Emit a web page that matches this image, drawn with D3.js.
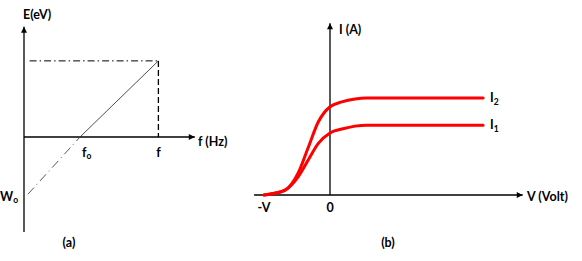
<!DOCTYPE html>
<html>
<head>
<meta charset="utf-8">
<script src="https://cdn.jsdelivr.net/npm/d3@7"></script>
<style>
  body { margin: 0; background: #fff; }
  text { font-family: Lato, "Open Sans", sans-serif; font-weight: bold; fill: #000; font-size: 12.5px; }
  tspan.sub { font-size: 8.5px; }
</style>
</head>
<body>
<div id="chart"></div>
<script>
// (a) photon energy vs frequency
const freqLabels = ["f", "f"];
const freqSubs = ["o", ""];
const freqValues = [1, 2.4];
const energyAtF = 1.29;
const workFunction = -0.97;

// (b) photocurrent vs voltage
const voltage = [-1, -0.9, -0.68, -0.48, -0.33, -0.18, 0, 0.18, 0.38, 0.55, 2.32];
const currentI2 = [0, 0.01, 0.05, 0.23, 0.49, 0.75, 0.91, 0.96, 0.99, 1.0, 1.0];
const currentI1 = [0, 0.01, 0.05, 0.19, 0.36, 0.53, 0.64, 0.68, 0.71, 0.72, 0.72];
const curveNames = ["I", "I"];
const curveSubs = ["2", "1"];

const width = 582, height = 261;

const svg = d3.select("#chart")
  .append("svg")
    .attr("width", width)
    .attr("height", height);

// arrow head
svg.append("defs").append("marker")
    .attr("id", "arrow")
    .attr("viewBox", "0 0 10 10")
    .attr("refX", 10).attr("refY", 5)
    .attr("markerUnits", "userSpaceOnUse")
    .attr("markerWidth", 8).attr("markerHeight", 6)
    .attr("orient", "auto")
  .append("path")
    .attr("d", "M0,0L10,5L0,10z")
    .attr("fill", "#000");

// ---------- panel (a) ----------
const xA = d3.scaleLinear().domain([0, 1]).range([24, 80]);
const yA = d3.scaleLinear().domain([0, 1]).range([137, 78]);

const gA = svg.append("g");

// axes
gA.append("line")
    .attr("x1", xA(0)).attr("y1", yA(-1.61))
    .attr("x2", xA(0)).attr("y2", yA(1.87))
    .attr("stroke", "#000").attr("stroke-width", 1.3)
    .attr("marker-end", "url(#arrow)");
gA.append("line")
    .attr("x1", xA(0)).attr("y1", yA(0))
    .attr("x2", xA(3.05)).attr("y2", yA(0))
    .attr("stroke", "#000").attr("stroke-width", 1.3)
    .attr("marker-end", "url(#arrow)");

// guide lines
const fMax = freqValues[1];
gA.append("line")
    .attr("x1", xA(0.1)).attr("y1", yA(energyAtF))
    .attr("x2", xA(fMax)).attr("y2", yA(energyAtF))
    .attr("stroke", "#000").attr("stroke-width", 1)
    .attr("stroke-dasharray", "7,3,1.5,3");
gA.append("line")
    .attr("x1", xA(fMax)).attr("y1", yA(energyAtF))
    .attr("x2", xA(fMax)).attr("y2", yA(0))
    .attr("stroke", "#000").attr("stroke-width", 1.3)
    .attr("stroke-dasharray", "6,3");

// kinetic energy line
gA.append("line")
    .attr("x1", xA(freqValues[0])).attr("y1", yA(0))
    .attr("x2", xA(fMax)).attr("y2", yA(energyAtF))
    .attr("stroke", "#222").attr("stroke-width", 0.8);
gA.append("line")
    .attr("x1", xA(0.07)).attr("y1", yA(workFunction))
    .attr("x2", xA(freqValues[0])).attr("y2", yA(0))
    .attr("stroke", "#444").attr("stroke-width", 0.9)
    .attr("stroke-dasharray", "9,4,1,4");

// labels
gA.append("text")
    .attr("x", 23).attr("y", 19)
    .text("E(eV)");
gA.append("text")
    .attr("x", 198).attr("y", 146)
    .text("f (Hz)");
freqValues.forEach(function(v, i) {
  const t = gA.append("text")
      .attr("x", xA(v) + (i == 0 ? 2 : 0))
      .attr("y", 157)
      .attr("text-anchor", i == 0 ? "start" : "middle")
      .text(freqLabels[i]);
  if (freqSubs[i]) {
    t.append("tspan").attr("class", "sub").attr("dy", 2).text(freqSubs[i]);
  }
});
gA.append("text")
    .attr("x", 0).attr("y", 201)
    .text("W")
  .append("tspan").attr("class", "sub").attr("dy", 2).text("o");
gA.append("text")
    .attr("x", 69).attr("y", 247)
    .attr("text-anchor", "middle")
    .text("(a)");

// ---------- panel (b) ----------
const xB = d3.scaleLinear().domain([-1, 0]).range([264, 330]);
const yB = d3.scaleLinear().domain([0, 1]).range([195, 98]);

const gB = svg.append("g");

gB.append("line")
    .attr("x1", xB(-1.15)).attr("y1", yB(0))
    .attr("x2", xB(2.92)).attr("y2", yB(0))
    .attr("stroke", "#000").attr("stroke-width", 1.3)
    .attr("marker-end", "url(#arrow)");
gB.append("line")
    .attr("x1", xB(0)).attr("y1", yB(0))
    .attr("x2", xB(0)).attr("y2", yB(1.77))
    .attr("stroke", "#000").attr("stroke-width", 1.3)
    .attr("marker-end", "url(#arrow)");

const line = d3.line()
    .x(function(d) { return xB(d[0]); })
    .y(function(d) { return yB(d[1]); })
    .curve(d3.curveMonotoneX);

[currentI2, currentI1].forEach(function(series, k) {
  const pts = voltage.map(function(v, i) { return [v, series[i]]; });
  gB.append("path")
      .datum(pts)
      .attr("d", line)
      .attr("fill", "none")
      .attr("stroke", "#ff0000")
      .attr("stroke-width", 3)
      .attr("stroke-linecap", "round");
  const last = pts[pts.length - 1];
  gB.append("text")
      .attr("x", xB(last[0]) + 7)
      .attr("y", yB(last[1]) + 4)
      .text(curveNames[k])
    .append("tspan").attr("class", "sub").attr("dy", 3).text(curveSubs[k]);
});

gB.append("text")
    .attr("x", 339).attr("y", 34)
    .text("I (A)");
gB.append("text")
    .attr("x", 527).attr("y", 201)
    .text("V (Volt)");
gB.append("text")
    .attr("x", xB(-1)).attr("y", 212)
    .attr("text-anchor", "middle")
    .text("-V");
gB.append("text")
    .attr("x", xB(0)).attr("y", 212)
    .attr("text-anchor", "middle")
    .text("0");
gB.append("text")
    .attr("x", 388).attr("y", 247)
    .attr("text-anchor", "middle")
    .text("(b)");
</script>
</body>
</html>
